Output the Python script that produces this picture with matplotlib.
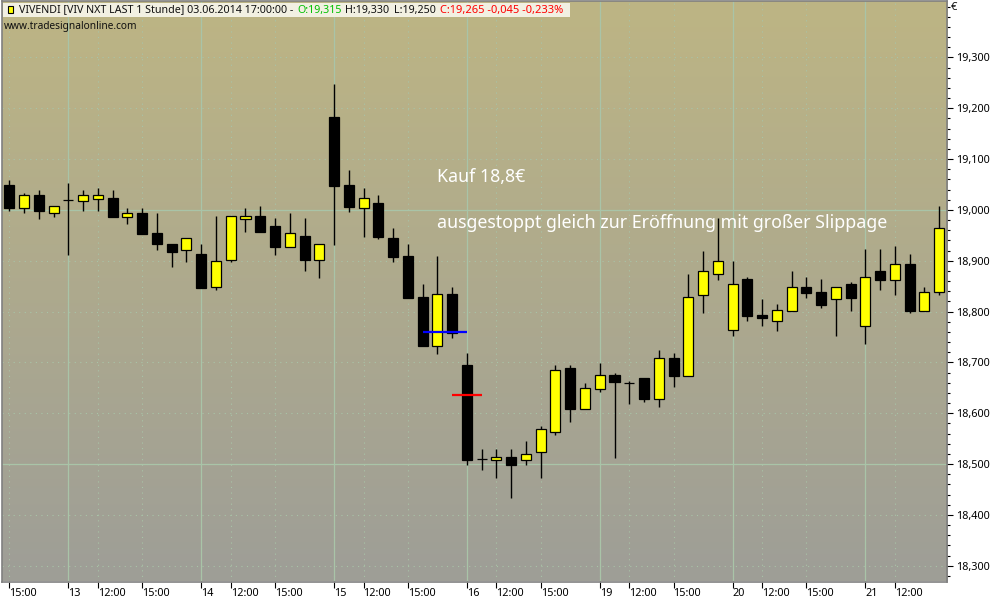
import numpy as np
import matplotlib.pyplot as plt
from matplotlib.colors import LinearSegmentedColormap
from matplotlib.patches import Rectangle
from matplotlib.ticker import FixedLocator, FuncFormatter, MultipleLocator
from matplotlib.transforms import ScaledTranslation

opens = [19.049, 19.003, 19.030, 18.993, 19.019, 19.018, 19.022, 19.024, 18.987, 18.994, 18.954, 18.933, 18.922,
         18.913, 18.848, 18.902, 18.983, 18.988, 18.969, 18.928, 18.949, 18.902, 19.183, 19.049, 19.003, 19.014,
         18.945, 18.910, 18.829, 18.732, 18.835, 18.695, 18.510, 18.509, 18.514, 18.508, 18.523, 18.563, 18.689,
         18.609, 18.648, 18.675, 18.659, 18.670, 18.629, 18.709, 18.674, 18.833, 18.873, 18.763, 18.864, 18.793,
         18.782, 18.802, 18.849, 18.839, 18.824, 18.854, 18.772, 18.880, 18.863, 18.894, 18.802, 18.838]
highs = [19.059, 19.033, 19.039, 19.007, 19.053, 19.039, 19.043, 19.039, 19.004, 19.004, 18.994, 18.933, 18.944,
         18.933, 18.988, 18.988, 19.004, 19.008, 18.984, 18.994, 18.984, 18.933, 19.248, 19.079, 19.043, 19.030,
         18.965, 18.933, 18.854, 18.910, 18.849, 18.719, 18.530, 18.530, 18.530, 18.546, 18.575, 18.695, 18.695,
         18.660, 18.699, 18.679, 18.664, 18.670, 18.725, 18.719, 18.874, 18.919, 18.984, 18.900, 18.868, 18.825,
         18.815, 18.880, 18.868, 18.864, 18.849, 18.858, 18.923, 18.923, 18.929, 18.913, 18.849, 19.008]
lows = [18.997, 18.993, 18.983, 18.987, 18.911, 18.997, 18.997, 18.987, 18.973, 18.953, 18.922, 18.888, 18.898,
        18.847, 18.842, 18.898, 18.957, 18.957, 18.911, 18.928, 18.879, 18.867, 18.931, 18.996, 18.947, 18.943,
        18.898, 18.827, 18.732, 18.717, 18.748, 18.498, 18.489, 18.473, 18.434, 18.498, 18.473, 18.557, 18.583,
        18.609, 18.642, 18.512, 18.618, 18.622, 18.613, 18.652, 18.674, 18.797, 18.862, 18.752, 18.782, 18.772,
        18.762, 18.802, 18.827, 18.807, 18.752, 18.801, 18.736, 18.843, 18.833, 18.797, 18.802, 18.833]
closes = [19.003, 19.029, 18.997, 19.007, 19.019, 19.029, 19.029, 18.987, 18.994, 18.953, 18.932, 18.918, 18.944,
          18.847, 18.899, 18.988, 18.988, 18.957, 18.928, 18.954, 18.902, 18.933, 19.047, 19.006, 19.023, 18.947,
          18.908, 18.827, 18.732, 18.835, 18.758, 18.508, 18.510, 18.514, 18.498, 18.520, 18.569, 18.685, 18.609,
          18.650, 18.675, 18.662, 18.659, 18.628, 18.709, 18.673, 18.829, 18.880, 18.900, 18.854, 18.792, 18.788,
          18.803, 18.849, 18.837, 18.813, 18.849, 18.827, 18.868, 18.862, 18.893, 18.801, 18.838, 18.964]

tick_pos = [0, 4, 6, 9, 13, 15, 18, 22, 24, 27, 31, 33, 36, 40, 42, 45, 49, 51, 54, 58, 60]
tick_labels = ['15:00', '13', '12:00', '15:00', '14', '12:00', '15:00', '15', '12:00', '15:00', '16',
               '12:00', '15:00', '19', '12:00', '15:00', '20', '12:00', '15:00', '21', '12:00']
day_pos = [4, 13, 22, 31, 40, 49, 58]
price_ticks = [18.3, 18.4, 18.5, 18.6, 18.7, 18.8, 18.9, 19.0, 19.1, 19.2, 19.3]
solid_levels = [18.5, 19.0]

plt.rcParams['font.family'] = ['Noto Sans', 'DejaVu Sans']

GRID = '#a9c4a8'

fig = plt.figure(figsize=(10, 6), dpi=100)
ax = fig.add_axes([1.5 / 1000, 18.5 / 600, 946 / 1000, 580.5 / 600])

# background gradient
bg = LinearSegmentedColormap.from_list('bg', ['#9e9e97', '#bdb584'])
ax.imshow(np.linspace(1, 0, 256).reshape(-1, 1), cmap=bg, aspect='auto',
          extent=(0, 1, 0, 1), transform=ax.transAxes, zorder=0)

ax.set_xlim(-0.53, 63.56)
ax.set_ylim(18.269, 19.411)

ax.set_xticks(tick_pos)
ax.set_xticklabels(tick_labels, ha='left', fontsize=7.8)
offset = ScaledTranslation(2.2 / 72, 0, fig.dpi_scale_trans)
for lab in ax.get_xticklabels():
    lab.set_transform(lab.get_transform() + offset)
ax.tick_params(axis='x', length=4, width=0.8, pad=1, color='black')

ax.yaxis.tick_right()
ax.yaxis.set_major_locator(FixedLocator(price_ticks))
ax.yaxis.set_minor_locator(MultipleLocator(0.02))
ax.yaxis.set_major_formatter(FuncFormatter(lambda v, p: f'{v:.3f}'.replace('.', ',')))
ax.tick_params(axis='y', which='major', length=4, width=0.8, pad=2, labelsize=7.8)
ax.tick_params(axis='y', which='minor', length=2, width=0.8)

ax.grid(True, color=GRID, linestyle=(0, (1, 4)), linewidth=0.8, zorder=1)
ax.set_axisbelow(True)
for d in day_pos:
    ax.axvline(d, color=GRID, linewidth=0.9, zorder=1.5)
for lev in solid_levels:
    ax.axhline(lev, color=GRID, linewidth=0.9, zorder=1.5)

for s in ax.spines.values():
    s.set_color('#808080')
    s.set_linewidth(1.2)

# candles
x = np.arange(len(opens))
o = np.array(opens)
c = np.array(closes)
ax.vlines(x, lows, highs, color='black', linewidth=1.0, zorder=3)
colors = ['#ffff00' if cl > op else 'black' for op, cl in zip(o, c)]
ax.bar(x, np.abs(c - o), bottom=np.minimum(o, c), width=0.68, color=colors,
       edgecolor='black', linewidth=0.9, zorder=4)

# entry / exit markers
ax.plot([28, 31], [18.760, 18.760], color='#0000ff', linewidth=1.6, zorder=5, solid_capstyle='butt')
ax.plot([30, 32], [18.635, 18.635], color='#ff0000', linewidth=1.6, zorder=5, solid_capstyle='butt')

# notes
fig.text(437 / 1000, 1 - 177 / 600, 'Kauf 18,8€', color='white', fontsize=12.8, va='center')
fig.text(437 / 1000, 1 - 223 / 600, 'ausgestoppt gleich zur Eröffnung mit großer Slippage',
         color='white', fontsize=12.8, va='center')

# header
fig.add_artist(Rectangle((3 / 1000, 1 - 17 / 600), 567 / 1000, 14 / 600, transform=fig.transFigure,
                         facecolor='#f2f0e2', edgecolor='none', zorder=6))
fig.add_artist(Rectangle((8 / 1000, 1 - 13 / 600), 5 / 1000, 7 / 600, transform=fig.transFigure,
                         facecolor='#ffff00', edgecolor='black', linewidth=0.8, zorder=7))
header = [(19, 'VIVENDI [VIV NXT LAST 1 Stunde] 03.06.2014 17:00:00 -', '#101010', 7.7),
          (297, 'O:19,315', '#00c000', 7.7),
          (345, 'H:19,330', '#101010', 7.7),
          (394, 'L:19,250', '#101010', 7.7),
          (440, 'C:19,265 -0,045 -0,233%', '#ff0000', 8.0)]
for px, txt, col, size in header:
    fig.text(px / 1000, 1 - 10 / 600, txt, color=col, fontsize=size, va='center', zorder=8)
fig.text(4 / 1000, 1 - 26 / 600, 'www.tradesignalonline.com', color='#101010', fontsize=7.3, va='center')
fig.text(951 / 1000, 1 - 8 / 600, '€', color='#101010', fontsize=8, va='center')

fig.savefig('out.png', dpi=100)
